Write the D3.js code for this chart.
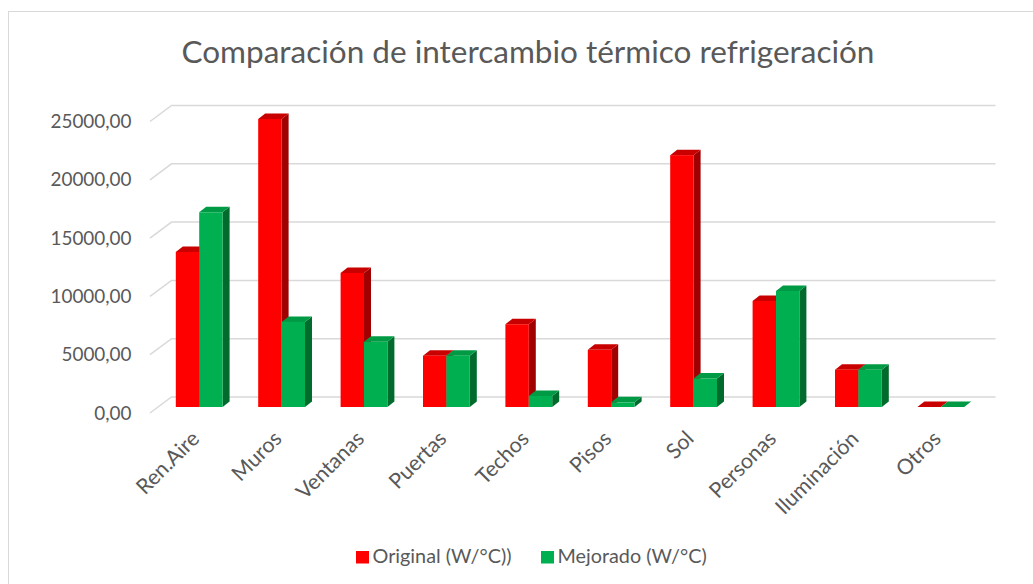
<!DOCTYPE html>
<html>
<head>
<meta charset="utf-8">
<script src="https://cdn.jsdelivr.net/npm/d3@7"></script>
<style>
  body { margin: 0; background: #fff; }
  svg { display: block; }
</style>
</head>
<body>
<div id="chart"></div>
<script>
// data
const categories = ["Ren.Aire", "Muros", "Ventanas", "Puertas", "Techos", "Pisos", "Sol", "Personas", "Iluminación", "Otros"];
const seriesNames = ["Original (W/°C))", "Mejorado (W/°C)"];
const original = [13300, 24700, 11500, 4400, 7100, 4900, 21600, 9100, 3200, 0];
const mejorado = [16700, 7300, 5600, 4400, 950, 400, 2450, 9950, 3200, 0];
const yTicks = [0, 5000, 10000, 15000, 20000, 25000];
const title = "Comparación de intercambio térmico refrigeración";

const width = 1033, height = 584;
const font = "Lato, 'Open Sans', sans-serif";
const textColor = "#595959";

// 3d offsets
const wall = {dx: 21.5, dy: -16};   // back wall vs front plane
const barOff = {dx: 8, dy: -6};     // bar front face vs front plane
const depth = {dx: 7, dy: -5.5};    // bar thickness

const colors = [
  {front: "#ff0000", top: "#c80000", side: "#a00000"},
  {front: "#00b050", top: "#009a45", side: "#006b2c"}
];

const svg = d3.select("#chart").append("svg")
  .attr("width", width)
  .attr("height", height);

// font size so that a sample string gets the width seen in the picture
function fitSize(str, target) {
  const t = svg.append("text")
    .style("font-family", font)
    .style("font-size", "100px")
    .text(str);
  const w = t.node().getComputedTextLength();
  t.remove();
  return Math.round(target / w * 1000) / 10;
}

const titleSize = fitSize(title, 692);
const tickSize = fitSize("25000,00", 81);
const catSize = fitSize("Iluminación", 107);
const legendSize = fitSize(seriesNames[0], 139);

svg.append("rect")
  .attr("x", 8.5).attr("y", 11.5)
  .attr("width", 1040).attr("height", 600)
  .attr("fill", "#fff")
  .attr("stroke", "#d9d9d9");

svg.append("text")
  .attr("x", 528).attr("y", 62.5)
  .attr("text-anchor", "middle")
  .style("font-family", font)
  .style("font-size", titleSize + "px")
  .attr("fill", textColor)
  .text(title);

const plotLeft = 150, plotRight = 974;

let y = d3.scaleLinear()
  .domain([0, 25000])
  .range([413, 121.5]);

let x0 = d3.scaleBand()
  .domain(categories)
  .range([plotLeft + barOff.dx, plotRight + barOff.dx])
  .paddingInner(0.432)
  .paddingOuter(0.216);

let x1 = d3.scaleBand()
  .domain([0, 1])
  .range([0, x0.bandwidth()]);

// gridlines on the back wall with slant to the front plane
const grid = svg.append("g");
yTicks.forEach(t => {
  grid.append("path")
    .attr("d", `M${plotLeft},${y(t)}L${plotLeft + wall.dx},${y(t) + wall.dy}L${plotRight + wall.dx},${y(t) + wall.dy}`)
    .attr("fill", "none")
    .attr("stroke", "#d9d9d9")
    .attr("stroke-width", 1.5);
});

// y axis labels
svg.append("g")
  .selectAll("text")
  .data(yTicks)
  .enter().append("text")
    .attr("x", 131.5)
    .attr("y", d => y(d))
    .attr("dy", "0.35em")
    .attr("text-anchor", "end")
    .style("font-family", font)
    .style("font-size", tickSize + "px")
    .attr("fill", textColor)
    .text(d => d3.format(".2f")(d).replace(".", ","));

// bars
const data = [];
categories.forEach((c, i) => {
  data.push({cat: c, s: 0, v: original[i]});
  data.push({cat: c, s: 1, v: mejorado[i]});
});

const bars = svg.append("g")
  .selectAll("g")
  .data(data)
  .enter().append("g");

bars.each(function(d) {
  const g = d3.select(this);
  const bx = x0(d.cat) + x1(d.s);
  const bw = x1.bandwidth();
  const base = y(0) + barOff.dy;
  const top = y(d.v) + barOff.dy;
  const c = colors[d.s];
  g.append("path")
    .attr("d", `M${bx + bw},${base}L${bx + bw + depth.dx},${base + depth.dy}L${bx + bw + depth.dx},${top + depth.dy}L${bx + bw},${top}Z`)
    .attr("fill", c.side);
  g.append("path")
    .attr("d", `M${bx},${top}L${bx + depth.dx},${top + depth.dy}L${bx + bw + depth.dx},${top + depth.dy}L${bx + bw},${top}Z`)
    .attr("fill", c.top);
  g.append("rect")
    .attr("x", bx)
    .attr("y", top)
    .attr("width", bw)
    .attr("height", base - top)
    .attr("fill", c.front);
});

// category labels
svg.append("g")
  .selectAll("text")
  .data(categories)
  .enter().append("text")
    .attr("transform", d => `translate(${x0(d) + x0.bandwidth() / 2 + 1.5},440) rotate(-45)`)
    .attr("text-anchor", "end")
    .style("font-family", font)
    .style("font-size", catSize + "px")
    .attr("fill", textColor)
    .text(d => d);

// legend
const legendX = [356, 541];
const legend = svg.append("g")
  .selectAll("g")
  .data(seriesNames)
  .enter().append("g")
    .attr("transform", (d, i) => `translate(${legendX[i]},551)`);

legend.append("rect")
  .attr("width", 13).attr("height", 12.5)
  .attr("fill", (d, i) => colors[i].front);

legend.append("text")
  .attr("x", 16.5)
  .attr("y", 12.3)
  .style("font-family", font)
  .style("font-size", legendSize + "px")
  .attr("fill", textColor)
  .text(d => d);
</script>
</body>
</html>
